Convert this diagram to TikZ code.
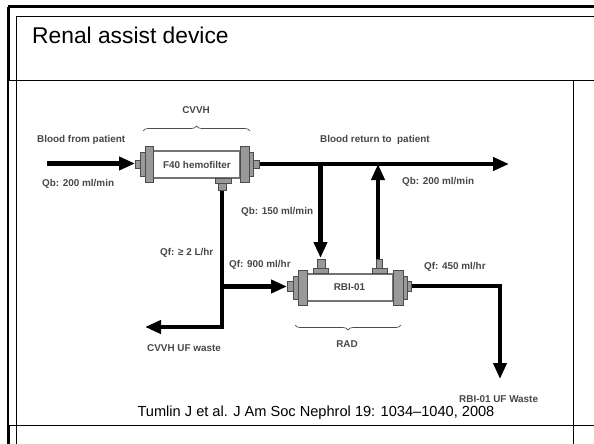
\documentclass[tikz,border=0pt]{standalone}
\usepackage{fontspec}
\setmainfont{Liberation Sans}
\usetikzlibrary{arrows.meta,decorations.pathreplacing}
\begin{document}
\begin{tikzpicture}[
    x=1pt, y=-1pt,
    rule/.style={line width=1pt, draw=black},
    heavyrule/.style={line width=3pt, draw=black},
    body/.style={rectangle, draw=black!55, fill=white, line width=1.2pt, inner sep=0pt},
    part/.style={rectangle, draw=black!70, fill=black!40, line width=0.7pt, inner sep=0pt},
    pipe/.style={line width=4.4pt, draw=black, line join=miter},
    flow/.style={pipe, -{Triangle[length=16pt,width=13pt]}},
    lbl/.style={font=\bfseries\fontsize{9.9}{11}\selectfont, text=black!72, inner sep=0pt},
    curly/.style={draw=black!70, line width=0.7pt, decorate, decoration={brace, amplitude=5pt}},
]
\useasboundingbox (0,0) rectangle (594,444);
% slide frame
\coordinate (ftl) at (8,7);
\coordinate (ftr) at (594,7);
\coordinate (fml) at (8,80.5);
\coordinate (fbl) at (8,444);
\draw[heavyrule] (ftl) -- (ftr);
\draw[heavyrule] (ftl) -- (fml);
\draw[line width=2pt] (fml) -- (fbl);
\draw[line width=3pt] (8,425) -- (fbl);
\draw[rule] (16.5,16.5) -- (594,16.5);
\draw[rule] (16.5,16.5) -- (16.5,444);
\draw[rule] (7,80.5) -- (594,80.5);
\draw[rule] (7,425.5) -- (594,425.5);
\draw[rule] (573,80.5) -- (573,444);
\node[anchor=west, inner sep=0pt, font=\fontsize{22.8}{26}\selectfont] (title) at (32,35.5) {Renal assist device};
\node[inner sep=0pt, font=\fontsize{14.6}{17}\selectfont] (cite) at (316,413) {Tumlin J et al. J Am Soc Nephrol 19: 1034--1040, 2008};

% free pipe ends
\coordinate (inlet) at (47,163.5);
\coordinate (outlet) at (509,164);
\coordinate (ufcorner) at (222,327);
\coordinate (ufend) at (145,327);
\coordinate (rbjoin) at (222,286.5);
\coordinate (wastecorner) at (500,286);
\coordinate (wasteend) at (500,379);
\coordinate (downtop) at (320.5,164);
\coordinate (uptop) at (378,164);

% pipes go under the parts
\draw[flow] (inlet) -- (135,163.5);
\draw[flow] (256,164) -- (outlet);
\draw[flow] (222,186) -- (ufcorner) -- (ufend);
\draw[flow] (rbjoin) -- (287,286.5);
\draw[flow] (downtop) -- (320.5,258);
\draw[flow] (378,262) -- (uptop);
\draw[flow] (409,286) -- (wastecorner) -- (wasteend);

% F40
\node[body, minimum width=87pt, minimum height=27pt] (f40) at (196.5,164.5) {};
\node[part, minimum width=5pt, minimum height=8pt] (f40nubl) at (137.5,164) {};
\node[part, minimum width=5pt, minimum height=24pt] (f40stubl) at (142.5,164) {};
\node[part, minimum width=8pt, minimum height=36pt] (f40capl) at (149,164) {};
\node[part, minimum width=6pt, minimum height=8pt] (f40nubr) at (256,164) {};
\node[part, minimum width=4pt, minimum height=24pt] (f40stubr) at (251,164) {};
\node[part, minimum width=9pt, minimum height=36pt] (f40capr) at (244.5,164) {};
\node[part, minimum width=8pt, minimum height=7pt] (f40neck) at (222,186.5) {};
\node[part, minimum width=16pt, minimum height=5pt] (f40tee) at (223,180.5) {};

% RBI
\node[body, minimum width=86pt, minimum height=27pt] (rbi) at (350,287.5) {};
\node[part, minimum width=6pt, minimum height=10pt] (rbinubl) at (290,286.5) {};
\node[part, minimum width=5pt, minimum height=23pt] (rbistubl) at (295.5,287.5) {};
\node[part, minimum width=9pt, minimum height=35pt] (rbicapl) at (302.5,287.5) {};
\node[part, minimum width=4pt, minimum height=10pt] (rbinubr) at (409,286) {};
\node[part, minimum width=4pt, minimum height=23pt] (rbistubr) at (405,287.5) {};
\node[part, minimum width=10pt, minimum height=35pt] (rbicapr) at (398,287.5) {};
\node[part, minimum width=8pt, minimum height=9pt] (rbineckl) at (321,263.5) {};
\node[part, minimum width=15pt, minimum height=5pt] (rbiteel) at (320.5,270.5) {};
\node[part, minimum width=6pt, minimum height=9pt] (rbineckr) at (379,263.5) {};
\node[part, minimum width=15pt, minimum height=5pt] (rbiteer) at (379.5,270.5) {};

% braces
\coordinate (cvvhl) at (143,131);
\coordinate (cvvhr) at (250,131);
\coordinate (radl) at (295,325);
\coordinate (radr) at (401,325);
\draw[curly] (cvvhl) -- (cvvhr);
\draw[curly] (radr) -- (radl);

% labels
\node[lbl] (lblcvvh) at (196,110) {CVVH};
\node[lbl, anchor=west] (lblin) at (37,139.5) {Blood from patient};
\node[lbl, anchor=west] (lblqbin) at (42,184) {Qb: 200 ml/min};
\node[lbl] (lblf40) at (197,164.5) {F40 hemofilter};
\node[lbl, anchor=west] (lblqbdown) at (241,212) {Qb: 150 ml/min};
\node[lbl, anchor=west] (lblout) at (320,140) {Blood return to \ patient};
\node[lbl, anchor=west] (lblqbout) at (402,182) {Qb: 200 ml/min};
\node[lbl, anchor=west] (lblqf) at (160,253) {Qf: ≥ 2 L/hr};
\node[lbl, anchor=west] (lblqfin) at (229,265) {Qf: 900 ml/hr};
\node[lbl, anchor=west] (lblufa) at (147,348) {CVVH UF waste};
\node[lbl] (lblrbi) at (349.5,287) {RBI-01};
\node[lbl] (lblrad) at (347,344) {RAD};
\node[lbl, anchor=west] (lblqfout) at (424,267) {Qf: 450 ml/hr};
\node[lbl, anchor=west] (lblufb) at (459,399) {RBI-01 UF Waste};
\end{tikzpicture}
\end{document}
